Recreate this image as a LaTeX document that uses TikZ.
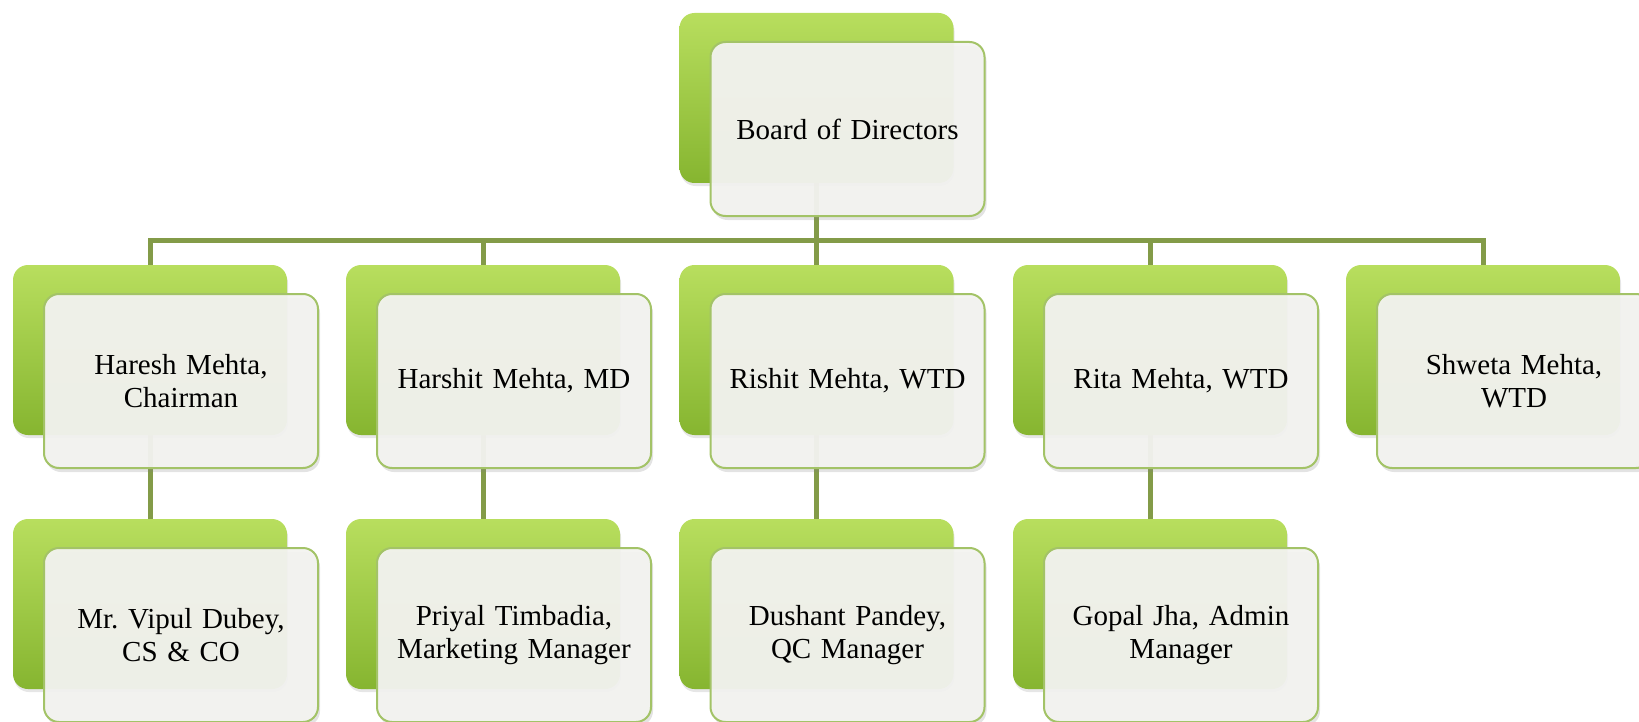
\documentclass[tikz,border=0pt]{standalone}
\usepackage{fontspec}
\setmainfont[WordSpace=0.85]{Liberation Serif}
\usepackage{tikz}
\usetikzlibrary{calc,backgrounds,shadows}

\definecolor{leafTop}{HTML}{B8DE5E}
\definecolor{leafMid}{HTML}{9DCB3E}
\definecolor{leafBot}{HTML}{86B530}
\definecolor{linkGreen}{HTML}{839B48}
\definecolor{cardFill}{HTML}{F3F3F0}
\definecolor{cardEdge}{HTML}{A3C367}

\tikzset{
  greenbox/.style={rounded corners=7.5pt, minimum width=137pt, minimum height=85pt,
    top color=leafTop, middle color=leafMid, bottom color=leafBot, draw=none,
    drop shadow={opacity=0.2, shadow xshift=0.5pt, shadow yshift=-1.5pt}},
  frontbox/.style={rounded corners=7.5pt, minimum width=137pt, minimum height=87pt,
    fill=cardFill, fill opacity=0.95, text opacity=1, draw=cardEdge, line width=1pt,
    text width=126pt, align=center, font=\fontsize{14.5pt}{16.5pt}\selectfont,
    drop shadow={opacity=0.22, shadow xshift=1pt, shadow yshift=-2pt}},
  link/.style={linkGreen, line width=2.5pt}
}

% one chart entry: green card behind, light card in front
\newcommand{\orgbox}[4]{%
  \node[greenbox] (#1-back) at (#2,#3) {};
  \node[frontbox] (#1) at ($(#1-back)+(31,31)$) {#4};
}

\begin{document}
\frenchspacing
\begin{tikzpicture}[x=0.5pt,y=-0.5pt]
    \useasboundingbox (0,0) rectangle (1639,722);
    \clip (0,0) rectangle (1639,722);

    % TOP
    \orgbox{board}{816.5}{98}{Board of Directors}

    % DIRECTORS
    \orgbox{haresh}{150}{350}{Haresh Mehta,\\ Chairman}
    \orgbox{harshit}{483}{350}{Harshit Mehta, MD}
    \orgbox{rishit}{816.5}{350}{Rishit Mehta, WTD}
    \orgbox{rita}{1150}{350}{Rita Mehta, WTD}
    \orgbox{shweta}{1483}{350}{Shweta Mehta,\\ WTD}

    % MANAGERS
    \orgbox{vipul}{150}{604}{Mr. Vipul Dubey,\\ CS \& CO}
    \orgbox{priyal}{483}{604}{Priyal Timbadia,\\ Marketing Manager}
    \orgbox{dushant}{816.5}{604}{Dushant Pandey,\\ QC Manager}
    \orgbox{gopal}{1150}{604}{Gopal Jha, Admin\\ Manager}

    % Connectors
    \begin{scope}[on background layer]
    \coordinate (bus) at (0,240);
    \foreach \who in {haresh,harshit,rishit,rita,shweta}
        \draw[link] (board-back.south) -- (board-back.south |- bus) -| (\who-back.north);
    \draw[link] (haresh-back.south) -- (vipul-back.north);
    \draw[link] (harshit-back.south) -- (priyal-back.north);
    \draw[link] (rishit-back.south) -- (dushant-back.north);
    \draw[link] (rita-back.south) -- (gopal-back.north);
    \end{scope}
\end{tikzpicture}
\end{document}
